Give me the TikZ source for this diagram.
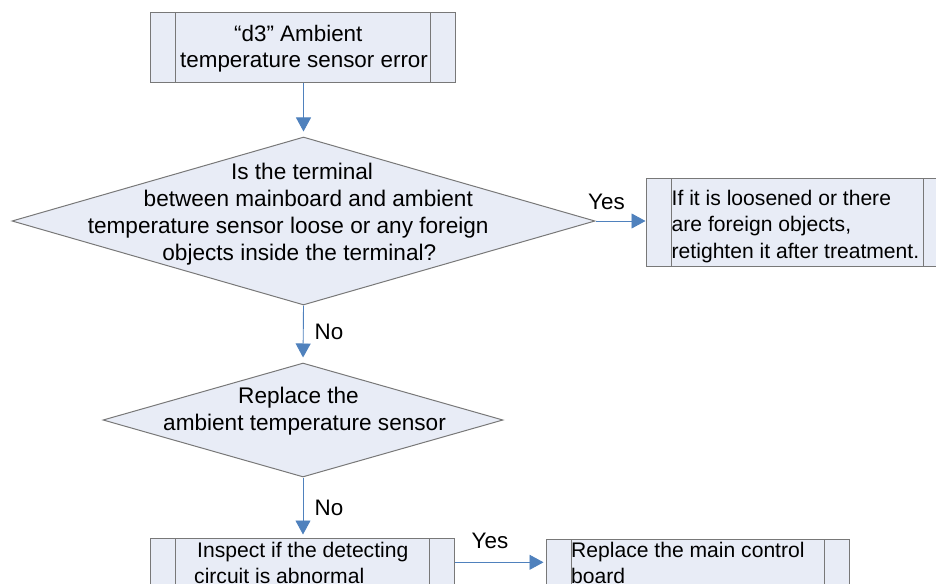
\documentclass[tikz,border=0pt]{standalone}
\usepackage{fontspec}
\setmainfont{Liberation Sans}
\usetikzlibrary{shapes.geometric,arrows.meta}
\definecolor{boxfill}{RGB}{232,236,246}
\definecolor{boxline}{RGB}{120,120,120}
\definecolor{arrowblue}{RGB}{79,129,189}
\begin{document}
\begin{tikzpicture}[x=1pt,y=-1pt,
  font=\fontsize{22.4}{26.7}\selectfont,
  bigfont/.style={font=\fontsize{22.6}{26.7}\selectfont},
  smallfont/.style={font=\fontsize{21.1}{26.6}\selectfont},
  proc/.style={draw=boxline, fill=boxfill, line width=1pt, inner sep=0pt, rectangle,
     path picture={\draw[boxline, line width=1pt]
       ([xshift=25pt]path picture bounding box.north west) -- ([xshift=25pt]path picture bounding box.south west)
       ([xshift=-25pt]path picture bounding box.north east) -- ([xshift=-25pt]path picture bounding box.south east);}},
  dec/.style={draw=boxline, fill=boxfill, line width=1pt, diamond, inner sep=0pt},
  txt/.style={inner sep=0pt, align=left, anchor=base west},
  lbl/.style={inner sep=0pt, anchor=base west},
  arr/.style={draw=arrowblue, line width=0.9pt, -{Triangle[length=14pt,width=15pt]}},
]
\useasboundingbox (0,0) rectangle (936,583);
\clip (0,0) rectangle (936,583);

% shapes (text nodes anchored at the baseline of their last line)
\node[proc, minimum width=305pt, minimum height=70pt] (start) at (302.5,48) {};
\node[txt] (starttext) at (180,68) {\hspace*{54pt}“d3” Ambient\\temperature sensor error};

\node[dec, minimum width=583pt, minimum height=168pt] (q1) at (303.5,221) {};
\node[txt, bigfont] (q1text) at (87.6,260) {\hspace*{143.3pt}Is the terminal\\\hspace*{55.9pt}between mainboard and ambient\\temperature sensor loose or any foreign\\\hspace*{74.6pt}objects inside the terminal?};

\node[proc, minimum width=302pt, minimum height=88pt] (fix) at (797,222) {};
\node[txt, smallfont] (fixtext) at (671.5,258.2) {If it is loosened or there\\are foreign objects,\\retighten it after treatment.};

\node[dec, minimum width=400pt, minimum height=114pt] (q2) at (303,420) {};
\node[txt, bigfont] (q2text) at (163,430.3) {\hspace*{75pt}Replace the\\ambient temperature sensor};

\node[proc, minimum width=304pt, minimum height=90pt] (bl) at (302,583) {};
\node[txt, smallfont] (bltext) at (194,583.6) {\hspace*{3pt}Inspect if the detecting\\circuit is abnormal};

\node[proc, minimum width=303pt, minimum height=90pt] (br) at (697.5,584) {};
\node[txt, smallfont] (brtext) at (571,583.9) {Replace the main control\\board};

% connectors
\coordinate (yrow) at (0,562.3);
\draw[arr, shorten >=5pt] (q1.north |- start.south) -- (q1.north);
\draw[arr] (q1.east) -- (q1.east -| fix.west);
\draw[arr, shorten >=5pt] (q1.south) -- (q2.north);
\draw[arr, shorten >=3pt] (q2.south) -- (q2.south |- bl.north);
\draw[arr, shorten >=2pt] (bl.east |- yrow) -- (br.west |- yrow);

% labels
\node[lbl] (yes1) at (588,209) {Yes};
\node[lbl] (no1) at (314.5,339) {No};
\node[lbl] (no2) at (314.5,515.7) {No};
\node[lbl] (yes2) at (471.5,548.3) {Yes};
\end{tikzpicture}
\end{document}
